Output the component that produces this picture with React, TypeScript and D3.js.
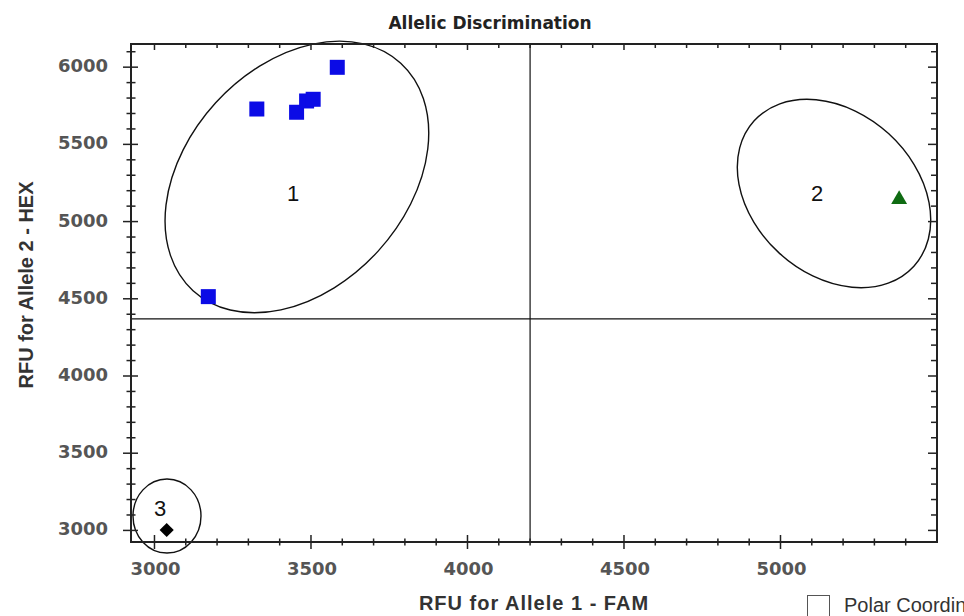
import { useEffect, useRef } from "react";
import * as d3 from "d3";

// axis ranges and ticks (RFU)
const famDomain = [2925, 5500];
const hexDomain = [2925, 6150];
const famTicks = [3000, 3500, 4000, 4500, 5000];
const hexTicks = [3000, 3500, 4000, 4500, 5000, 5500, 6000];
const minorStep = 100;

// call thresholds (quadrant lines)
const famCut = 4200;
const hexCut = 4370;

// wells called Allele 2 (blue squares)
const allele2Fam = [3172, 3327, 3454, 3486, 3507, 3584];
const allele2Hex = [4514, 5729, 5708, 5781, 5792, 5999];

// wells called Allele 1 (green triangle)
const allele1Fam = [5379];
const allele1Hex = [5144];

// no template control (black diamond)
const ntcFam = [3039];
const ntcHex = [3003];

// cluster annotations
const clusterNames = ["1", "2", "3"];
const clusterFam = [3455, 5171, 3040];
const clusterHex = [5289, 5182, 3093];
const clusterLabelFam = [3443, 5117, 3018];
const clusterLabelHex = [5185, 5185, 3145];

export default function App() {
  const ref = useRef<SVGSVGElement>(null);

  useEffect(() => {
    const W = 964;
    const H = 616;
    const left = 131, right = 937, top = 44, bottom = 542;
    const svg = d3.select(ref.current);
    svg.selectAll("*").remove();

    const x = d3.scaleLinear().domain(famDomain).range([left, right]);
    const y = d3.scaleLinear().domain(hexDomain).range([bottom, top]);

    svg.append("rect").attr("width", W).attr("height", H).attr("fill", "#fff");

    // quadrant lines
    svg.append("line")
      .attr("x1", x(famCut)).attr("x2", x(famCut))
      .attr("y1", top).attr("y2", bottom)
      .attr("stroke", "#111").attr("stroke-width", 1.2);
    svg.append("line")
      .attr("x1", left).attr("x2", right)
      .attr("y1", y(hexCut)).attr("y2", y(hexCut))
      .attr("stroke", "#111").attr("stroke-width", 1.2);

    // cluster ellipses (semi axes in px, tilt in degrees)
    const shapes = [
      { rx: 154, ry: 110, tilt: 47.6 },
      { rx: 108, ry: 81, tilt: -42.3 },
      { rx: 34, ry: 37, tilt: 0 },
    ];
    clusterNames.forEach((name, i) => {
      const cx = x(clusterFam[i]);
      const cy = y(clusterHex[i]);
      svg.append("ellipse")
        .attr("cx", cx).attr("cy", cy)
        .attr("rx", shapes[i].rx).attr("ry", shapes[i].ry)
        .attr("transform", `rotate(${-shapes[i].tilt} ${cx} ${cy})`)
        .attr("fill", "none").attr("stroke", "#111").attr("stroke-width", 1.4);
      svg.append("text")
        .attr("x", x(clusterLabelFam[i])).attr("y", y(clusterLabelHex[i]))
        .attr("text-anchor", "middle").attr("dominant-baseline", "central")
        .attr("font-family", "Liberation Sans, Arial, sans-serif")
        .attr("font-size", 22).attr("fill", "#111")
        .text(name);
    });

    // points
    const sq = d3.symbol().type(d3.symbolSquare).size(225);
    svg.append("g").selectAll("path")
      .data(d3.zip(allele2Fam, allele2Hex))
      .enter().append("path")
      .attr("d", sq)
      .attr("transform", d => `translate(${x(d[0])},${y(d[1])})`)
      .attr("fill", "#0b0be6");

    const tri = d3.symbol().type(d3.symbolTriangle).size(110);
    svg.append("g").selectAll("path")
      .data(d3.zip(allele1Fam, allele1Hex))
      .enter().append("path")
      .attr("d", tri)
      .attr("transform", d => `translate(${x(d[0])},${y(d[1])})`)
      .attr("fill", "#0f6b12");

    const dia = d3.symbol().type(d3.symbolSquare).size(100);
    svg.append("g").selectAll("path")
      .data(d3.zip(ntcFam, ntcHex))
      .enter().append("path")
      .attr("d", dia)
      .attr("transform", d => `translate(${x(d[0])},${y(d[1])}) rotate(45)`)
      .attr("fill", "#000");

    // frame
    svg.append("rect")
      .attr("x", left).attr("y", top)
      .attr("width", right - left).attr("height", bottom - top)
      .attr("fill", "none").attr("stroke", "#222").attr("stroke-width", 2);

    const tickColor = "#222";
    const famAll = d3.range(famTicks[0], famDomain[1], minorStep);
    const hexAll = d3.range(hexTicks[0], hexDomain[1], minorStep);
    const isMajor = (v: number, list: number[]) => list.includes(v);

    const ticks = svg.append("g").attr("stroke", tickColor).attr("stroke-width", 1.5);
    famAll.forEach(v => {
      const major = isMajor(v, famTicks);
      const px = x(v);
      // bottom: crosses the axis
      ticks.append("line").attr("x1", px).attr("x2", px)
        .attr("y1", bottom - (major ? 7 : 3.5)).attr("y2", bottom + (major ? 7 : 3.5));
      // top: inside
      ticks.append("line").attr("x1", px).attr("x2", px)
        .attr("y1", top).attr("y2", top + (major ? 6 : 4));
    });
    hexAll.forEach(v => {
      const major = isMajor(v, hexTicks);
      const py = y(v);
      ticks.append("line").attr("y1", py).attr("y2", py)
        .attr("x1", left - (major ? 8 : 4.5)).attr("x2", left + (major ? 7 : 4.5));
      ticks.append("line").attr("y1", py).attr("y2", py)
        .attr("x1", right - (major ? 9 : 6)).attr("x2", right);
    });

    // tick labels
    const tickFont = "Liberation Sans, Arial, sans-serif";
    const numFont = "DejaVu Sans, Verdana, sans-serif";
    svg.append("g").selectAll("text")
      .data(famTicks).enter().append("text")
      .attr("x", d => x(d) + 1).attr("y", bottom + 33)
      .attr("text-anchor", "middle")
      .attr("font-family", numFont).attr("font-weight", "bold")
      .attr("font-size", 18)
      .attr("fill", "#555")
      .text(d => d);
    svg.append("g").selectAll("text")
      .data(hexTicks).enter().append("text")
      .attr("x", left - 23).attr("y", d => y(d) + 5)
      .attr("text-anchor", "end")
      .attr("font-family", numFont).attr("font-weight", "bold")
      .attr("font-size", 18)
      .attr("fill", "#555")
      .text(d => d);

    // titles
    svg.append("text")
      .attr("x", 490).attr("y", 29)
      .attr("text-anchor", "middle")
      .attr("font-family", "DejaVu Sans, Verdana, sans-serif")
      .attr("font-weight", "bold").attr("font-size", 17)
      .attr("fill", "#222")
      .text("Allelic Discrimination");
    svg.append("text")
      .attr("x", (left + right) / 2).attr("y", 610)
      .attr("text-anchor", "middle")
      .attr("font-family", tickFont)
      .attr("font-weight", "bold").attr("font-size", 20).attr("letter-spacing", 1)
      .attr("fill", "#333")
      .text("RFU for Allele 1 - FAM");
    svg.append("text")
      .attr("transform", "translate(33,285) rotate(-90)")
      .attr("text-anchor", "middle")
      .attr("font-family", tickFont)
      .attr("font-weight", "bold").attr("font-size", 20)
      .attr("fill", "#333")
      .text("RFU for Allele 2 - HEX");

    // polar coordinates checkbox (label runs past the edge, as in the source)
    svg.append("rect")
      .attr("x", 807.5).attr("y", 595.5).attr("width", 22).attr("height", 22)
      .attr("fill", "#fff").attr("stroke", "#555").attr("stroke-width", 1);
    svg.append("text")
      .attr("x", 844).attr("y", 612)
      .attr("font-family", tickFont).attr("font-size", 20)
      .attr("fill", "#333")
      .text("Polar Coordinates");
  }, []);

  return (
    <svg
      ref={ref}
      width={964}
      height={616}
      style={{ position: "absolute", left: 0, top: 0, display: "block" }}
    />
  );
}
